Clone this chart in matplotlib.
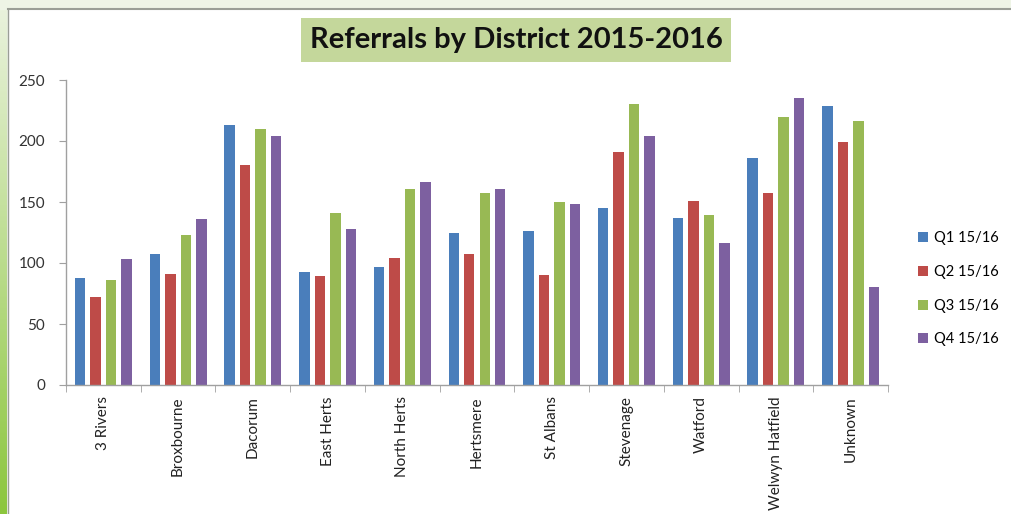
import numpy as np
import matplotlib.pyplot as plt
from matplotlib.patches import Rectangle
from matplotlib.colors import LinearSegmentedColormap

districts = ['3 Rivers', 'Broxbourne', 'Dacorum', 'East Herts', 'North Herts', 'Hertsmere',
             'St Albans', 'Stevenage', 'Watford', 'Welwyn Hatfield', 'Unknown']
q1 = [88, 107, 213, 93, 97, 125, 126, 145, 137, 186, 229]
q2 = [72, 91, 180, 89, 104, 107, 90, 191, 151, 157, 199]
q3 = [86, 123, 210, 141, 161, 157, 150, 230, 139, 220, 216]
q4 = [103, 136, 204, 128, 166, 161, 148, 204, 116, 235, 80]
series_names = ['Q1 15/16', 'Q2 15/16', 'Q3 15/16', 'Q4 15/16']
colors = ['#4a7ebb', '#be4b48', '#98b954', '#7d60a0']

plt.rcParams['font.family'] = ['Lato', 'DejaVu Sans']

fig = plt.figure(figsize=(10.11, 5.14), dpi=100)
fig.patch.set_facecolor('#eef4e6')

# white panel with grey frame (behind the axes)
fig.patches.append(Rectangle((8/1011, 0), 1 - 8/1011, 1 - 9/514, transform=fig.transFigure,
                             facecolor='white', edgecolor='none', zorder=-5))
fig.lines.append(plt.Line2D([8/1011, 1], [1 - 9/514, 1 - 9/514], transform=fig.transFigure,
                            color='#9a9e96', linewidth=1.5, zorder=-4))
fig.lines.append(plt.Line2D([8/1011, 8/1011], [0, 1 - 9/514], transform=fig.transFigure,
                            color='#9a9e96', linewidth=1.0, zorder=-4))
# green gradient strip on the left
grad = np.linspace(0, 1, 256).reshape(-1, 1)
gax = fig.add_axes([0, 0, 7/1011, 1 - 10/514])
gax.imshow(grad, aspect='auto', origin='upper',
           cmap=LinearSegmentedColormap.from_list('g', ['#e9f2dc', '#8cc63e']))
gax.axis('off')

ax = fig.add_axes([66/1011, 1 - 385/514, 822/1011, 305/514])
ax.patch.set_alpha(0)
x = np.arange(len(districts))
w = 0.14
step = 0.207
for i, (vals, name) in enumerate(zip([q1, q2, q3, q4], series_names)):
    ax.bar(x + (i - 1.5) * step, vals, width=w, color=colors[i], label=name, zorder=2)

ax.set_xlim(-0.5, len(districts) - 0.5)
ax.set_ylim(0, 250)
ax.set_yticks(np.arange(0, 251, 50))
ax.set_xticks(x)
ax.set_xticklabels(districts, rotation=90, fontsize=11, color='#222222')
ax.set_xticks(np.arange(-0.5, len(districts), 1), minor=True)
ax.tick_params(axis='x', which='major', length=0, pad=8)
ax.tick_params(axis='x', which='minor', length=5, color='#a0a0a0', direction='out')
ax.tick_params(axis='y', length=5, color='#a0a0a0', labelsize=11, labelcolor='#333333', pad=10)
for s in ['top', 'right']:
    ax.spines[s].set_visible(False)
for s in ['left', 'bottom']:
    ax.spines[s].set_color('#a0a0a0')
    ax.spines[s].set_linewidth(1.0)

leg = ax.legend(loc='center left', bbox_to_anchor=(1.02, 0.315), frameon=False, fontsize=10.5,
                handlelength=0.7, handleheight=0.7, handletextpad=0.4, labelspacing=1.35)

fig.text(516/1011, 1 - 40/514, 'Referrals by District 2015-2016', ha='center', va='center',
         fontsize=21, fontweight='bold', color='#111111',
         bbox=dict(boxstyle='square,pad=0.3', facecolor='#c4d79b', edgecolor='none'))

fig.savefig('out.png', dpi=100, facecolor=fig.get_facecolor())
